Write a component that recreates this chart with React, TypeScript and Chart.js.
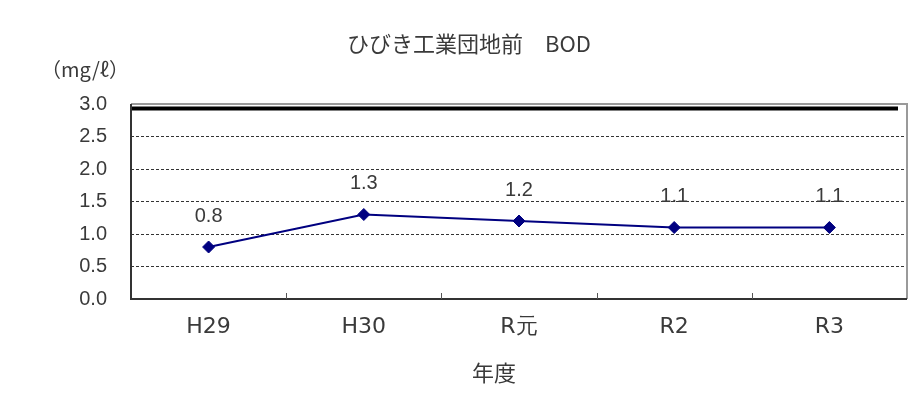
import { useEffect, useRef } from "react";
import { Chart, registerables } from "chart.js";

Chart.register(...registerables);

const TITLE = "ひびき工業団地前　BOD";
const Y_UNIT = "（mg/ℓ）";
const X_TITLE = "年度";
const CATEGORIES = ["H29", "H30", "R元", "R2", "R3"];
const BOD_VALUES = [0.8, 1.3, 1.2, 1.1, 1.1];
const Y_MIN = 0;
const Y_MAX = 3;
const Y_STEP = 0.5;
const STANDARD_LEVEL = 2.93;

const TEXT_COLOR = "#3a3a3a";
const LINE_COLOR = "#000080";
const NUM_FONT = "'Liberation Sans', Arial, sans-serif";
const CJK_FONT = "'Noto Sans CJK JP', sans-serif";

const W = 914;
const H = 401;

const decorPlugin = {
  id: "decor",
  beforeDatasetsDraw(chart: any) {
    const { ctx, chartArea, scales } = chart;
    const y = scales.y;
    const x = scales.x;
    ctx.save();
    // standard line
    const ys = y.getPixelForValue(STANDARD_LEVEL);
    ctx.strokeStyle = "#000";
    ctx.lineWidth = 4;
    ctx.beginPath();
    ctx.moveTo(chartArea.left, ys);
    ctx.lineTo(chartArea.right - 9, ys);
    ctx.stroke();
    // frame: top/right gray
    ctx.strokeStyle = "#9a9a9a";
    ctx.lineWidth = 2;
    ctx.beginPath();
    ctx.moveTo(chartArea.left, chartArea.top);
    ctx.lineTo(chartArea.right, chartArea.top);
    ctx.lineTo(chartArea.right, chartArea.bottom);
    ctx.stroke();
    // left / bottom dark
    ctx.strokeStyle = "#333";
    ctx.lineWidth = 2;
    ctx.beginPath();
    ctx.moveTo(chartArea.left, chartArea.top);
    ctx.lineTo(chartArea.left, chartArea.bottom);
    ctx.lineTo(chartArea.right, chartArea.bottom);
    ctx.stroke();
    // category boundary ticks (inside)
    ctx.strokeStyle = "#555";
    ctx.lineWidth = 1;
    const n = CATEGORIES.length;
    for (let i = 0; i < n - 1; i++) {
      const bx = Math.round((x.getPixelForValue(i) + x.getPixelForValue(i + 1)) / 2) + 0.5;
      ctx.beginPath();
      ctx.moveTo(bx, chartArea.bottom);
      ctx.lineTo(bx, chartArea.bottom - 6);
      ctx.stroke();
    }
    ctx.restore();
  },
  afterDatasetsDraw(chart: any) {
    const { ctx } = chart;
    const meta = chart.getDatasetMeta(0);
    ctx.save();
    ctx.fillStyle = TEXT_COLOR;
    ctx.font = `20px ${NUM_FONT}`;
    ctx.textAlign = "center";
    ctx.textBaseline = "middle";
    meta.data.forEach((pt: any, i: number) => {
      ctx.fillText(BOD_VALUES[i].toFixed(1), pt.x, pt.y - 31);
    });
    ctx.restore();
  },
  afterDraw(chart: any) {
    const { ctx } = chart;
    ctx.save();
    ctx.fillStyle = TEXT_COLOR;
    ctx.textBaseline = "middle";
    ctx.textAlign = "center";
    ctx.font = `22px ${CJK_FONT}`;
    ctx.fillText(TITLE, 461, 36);
    ctx.font = `20px ${CJK_FONT}`;
    ctx.fillText(Y_UNIT, 77, 61);
    ctx.font = `22px ${CJK_FONT}`;
    ctx.fillText(X_TITLE, 486, 365);
    ctx.restore();
  },
};

export default function App() {
  const ref = useRef<HTMLCanvasElement | null>(null);

  useEffect(() => {
    document.body.style.overflow = "hidden";
    const canvas = ref.current;
    if (!canvas) return;
    const chart = new Chart(canvas, {
      type: "line",
      data: {
        labels: CATEGORIES,
        datasets: [
          {
            data: BOD_VALUES,
            borderColor: LINE_COLOR,
            borderWidth: 2,
            backgroundColor: LINE_COLOR,
            pointStyle: "rectRot",
            pointRadius: 6,
            pointBackgroundColor: LINE_COLOR,
            pointBorderColor: LINE_COLOR,
            pointBorderWidth: 1,
            tension: 0,
          },
        ],
      },
      options: {
        animation: false,
        responsive: false,
        devicePixelRatio: 1,
        layout: { padding: { left: 0, right: 15, top: 96, bottom: 0 } },
        plugins: {
          legend: { display: false },
          title: { display: false },
          tooltip: { enabled: false },
        },
        scales: {
          x: {
            type: "category",
            offset: true,
            grid: { display: false, drawTicks: false },
            border: { display: false },
            ticks: {
              color: TEXT_COLOR,
              font: { family: "'DejaVu Sans', sans-serif", size: 22 },
              padding: 15,
              maxRotation: 0,
            },
            afterFit: (s: any) => {
              s.height = 110;
            },
          },
          y: {
            min: Y_MIN,
            max: Y_MAX,
            grid: {
              drawTicks: false,
              lineWidth: 1,
              color: (c: any) =>
                c.tick && (c.tick.value === Y_MIN || c.tick.value === Y_MAX)
                  ? "rgba(0,0,0,0)"
                  : "#333",
            },
            border: { display: false, dash: [3, 2] },
            ticks: {
              stepSize: Y_STEP,
              color: TEXT_COLOR,
              font: { family: NUM_FONT, size: 20 },
              padding: 24,
              callback: (v: any) => Number(v).toFixed(1),
            },
            afterFit: (s: any) => {
              s.width = 123;
            },
          },
        },
      },
      plugins: [decorPlugin],
    });
    return () => chart.destroy();
  }, []);

  return (
    <div
      style={{
        marginTop: -1,
        marginLeft: -1,
        borderLeft: "1px solid #333",
        borderTop: "1px solid #333",
        width: W,
        height: H,
        overflow: "hidden",
        background: "#fff",
      }}
    >
      <canvas ref={ref} width={W} height={H} style={{ display: "block", width: W, height: H }} />
    </div>
  );
}
